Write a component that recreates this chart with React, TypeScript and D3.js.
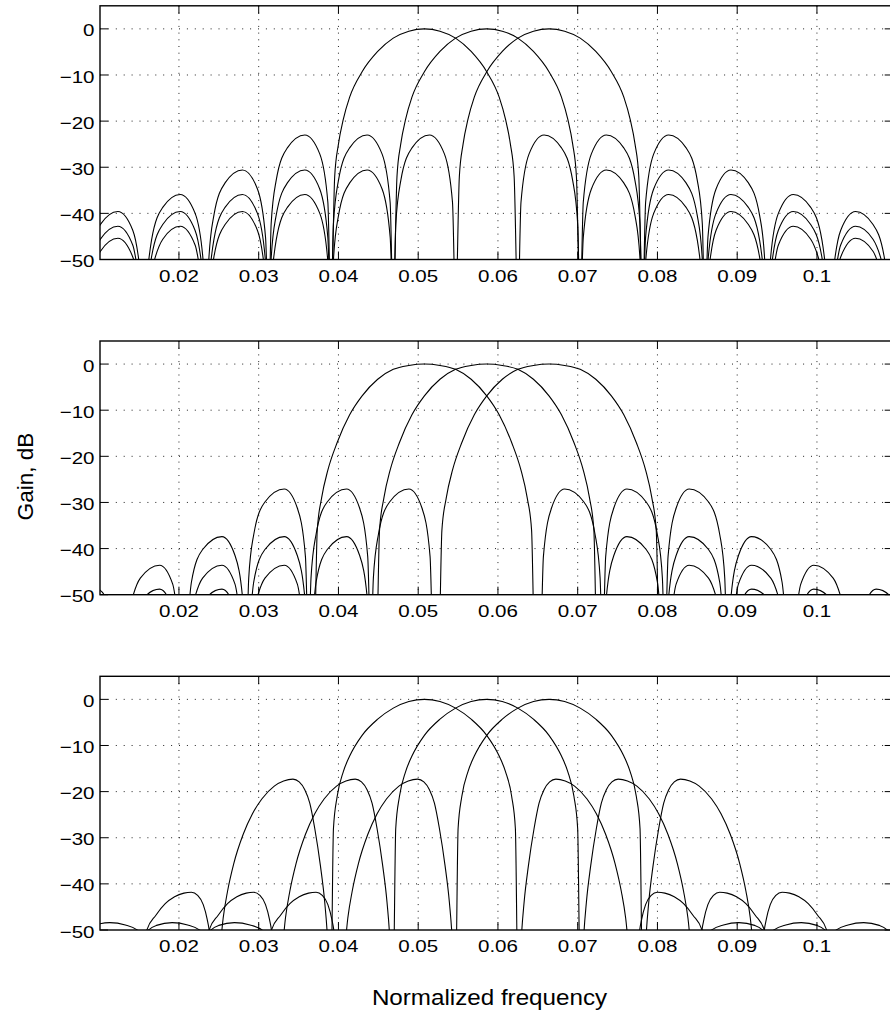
import React from 'react';
import * as d3 from 'd3';

// ---------- data ----------
const BIN = 1 / 128; // channel spacing (normalized frequency)
const CENTERS = [0.05078, 0.05859, 0.06641]; // centre frequency of each channel

const X_TICKS = [0.02, 0.03, 0.04, 0.05, 0.06, 0.07, 0.08, 0.09, 0.1];
const X_TICK_LABELS = ['0.02', '0.03', '0.04', '0.05', '0.06', '0.07', '0.08', '0.09', '0.1'];
const Y_TICKS = [0, -10, -20, -30, -40, -50];
const Y_TICK_LABELS = ['0', '\u221210', '\u221220', '\u221230', '\u221240', '\u221250'];
const X_DOMAIN = [0.0101, 0.1095];
const Y_DOMAIN = [-50, 5];

const X_LABEL = 'Normalized frequency';
const Y_LABEL = 'Gain, dB';

// [offset from channel centre in bins, gain dB]
const TOP_RESPONSE: [number, number][] = [
  [-8.5, -62], [-8.38, -57.5], [-8.2, -50.4], [-7.92, -47.6], [-7.68, -51.7],
  [-7.5, -62], [-7.38, -55.3], [-7.2, -48.2], [-6.92, -45.4], [-6.68, -49.5],
  [-6.5, -62], [-6.38, -52.7], [-6.2, -45.6], [-5.92, -42.8], [-5.68, -46.9], [-5.55, -57.4],
  [-5.5, -62], [-5.38, -49.5], [-5.2, -42.4], [-4.92, -39.6], [-4.68, -43.7], [-4.55, -54.2],
  [-4.5, -62], [-4.46, -55], [-4.38, -45.8], [-4.2, -38.7], [-3.92, -35.9], [-3.68, -40], [-3.55, -50.5],
  [-3.5, -62], [-3.46, -49.9], [-3.38, -40.5], [-3.2, -33.4], [-2.92, -30.6], [-2.68, -34.7], [-2.55, -45.2],
  [-2.5, -62], [-2.46, -42.3], [-2.38, -32.9], [-2.2, -25.8], [-1.92, -23], [-1.68, -27.1], [-1.55, -37.6],
  [-1.5, -62], [-1.44, -32], [-1.38, -25], [-1.3, -19.5], [-1.2, -14.8], [-1.0, -9.3], [-0.75, -4.9], [-0.5, -2.0], [-0.25, -0.5],
  [0, 0],
  [0.25, -0.5], [0.5, -2.0], [0.75, -4.9], [1.0, -9.3], [1.2, -14.8], [1.3, -19.5], [1.38, -25], [1.44, -32], [1.5, -62],
  [1.55, -37.6], [1.68, -27.1], [1.92, -23], [2.2, -25.8], [2.38, -32.9], [2.46, -42.3], [2.5, -62],
  [2.55, -45.2], [2.68, -34.7], [2.92, -30.6], [3.2, -33.4], [3.38, -40.5], [3.46, -49.9], [3.5, -62],
  [3.55, -50.5], [3.68, -40], [3.92, -35.9], [4.2, -38.7], [4.38, -45.8], [4.46, -55], [4.5, -62],
  [4.55, -54.2], [4.68, -43.7], [4.92, -39.6], [5.2, -42.4], [5.38, -49.5], [5.5, -62],
  [5.55, -57.4], [5.68, -46.9], [5.92, -42.8], [6.2, -45.6], [6.38, -52.7], [6.5, -62],
  [6.68, -49.5], [6.92, -45.4], [7.2, -48.2], [7.38, -55.3], [7.5, -62],
  [7.68, -51.7], [7.92, -47.6], [8.2, -50.4], [8.38, -57.5], [8.5, -62],
];

const MID_RESPONSE: [number, number][] = [
  [-6.86, -62], [-6.25, -53],
  [-5.86, -62], [-5.56, -51.6], [-5.25, -48.8], [-5.04, -52.9],
  [-4.86, -62], [-4.74, -53.5], [-4.56, -46.4], [-4.25, -43.6], [-4.04, -47.7],
  [-3.86, -62], [-3.74, -47.3], [-3.56, -40.2], [-3.25, -37.4], [-3.04, -41.5], [-2.91, -52],
  [-2.86, -62], [-2.82, -46.4], [-2.74, -37], [-2.56, -29.9], [-2.25, -27.1], [-2.04, -31.2], [-1.91, -41.7],
  [-1.86, -62], [-1.815, -55],
  [-1.77, -62], [-1.72, -36], [-1.65, -29], [-1.55, -23], [-1.4, -17], [-1.2, -11], [-1.0, -6.9], [-0.75, -3.3], [-0.5, -1.15], [-0.25, -0.3],
  [0, 0],
  [0.25, -0.3], [0.5, -1.15], [0.75, -3.3], [1.0, -6.9], [1.2, -11], [1.4, -17], [1.55, -23], [1.65, -29], [1.72, -36], [1.77, -62],
  [1.815, -55], [1.86, -62],
  [1.91, -41.7], [2.04, -31.2], [2.25, -27.1], [2.56, -29.9], [2.74, -37], [2.82, -46.4], [2.86, -62],
  [2.91, -52], [3.04, -41.5], [3.25, -37.4], [3.56, -40.2], [3.74, -47.3], [3.86, -62],
  [4.04, -47.7], [4.25, -43.6], [4.56, -46.4], [4.74, -53.5], [4.86, -62],
  [5.04, -52.9], [5.25, -48.8], [5.56, -51.6], [5.86, -62],
  [6.25, -53], [6.86, -62],
];

const BOT_RESPONSE: [number, number][] = [
  [-5.8, -60], [-5.6, -54], [-5.45, -50.3], [-5.3, -49], [-5.05, -48.4], [-4.8, -48.9], [-4.58, -50.3],
  [-4.5, -53], [-4.46, -50.2], [-4.31, -46.8], [-4.16, -44.3], [-4.01, -42.8], [-3.86, -42.0], [-3.74, -41.8], [-3.64, -42.5], [-3.55, -44.5], [-3.49, -47.5], [-3.44, -52],
  [-3.41, -62], [-3.36, -62], [-3.28, -54], [-3.23, -47.4], [-3.16, -41.6], [-3.06, -35.6], [-2.91, -29.3], [-2.76, -24.8], [-2.61, -21.6], [-2.41, -18.8], [-2.26, -17.7],
  [-2.11, -17.3], [-2.01, -17.9], [-1.92, -19.6], [-1.84, -22.5], [-1.76, -28], [-1.67, -36], [-1.6, -44], [-1.555, -52], [-1.53, -60],
  [-1.5, -62], [-1.46, -28], [-1.4, -21], [-1.3, -15.6], [-1.2, -12.3], [-1.0, -7.8], [-0.75, -4.3], [-0.5, -1.9], [-0.25, -0.45],
  [0, 0],
  [0.25, -0.45], [0.5, -1.9], [0.75, -4.3], [1.0, -7.8], [1.2, -12.3], [1.3, -15.6], [1.4, -21], [1.46, -28], [1.5, -62],
  [1.53, -60], [1.555, -52], [1.6, -44], [1.67, -36], [1.76, -28], [1.84, -22.5], [1.92, -19.6], [2.01, -17.9], [2.11, -17.3],
  [2.26, -17.7], [2.41, -18.8], [2.61, -21.6], [2.76, -24.8], [2.91, -29.3], [3.06, -35.6], [3.16, -41.6], [3.23, -47.4], [3.28, -54], [3.36, -62],
  [3.41, -62], [3.44, -52], [3.49, -47.5], [3.55, -44.5], [3.64, -42.5], [3.74, -41.8], [3.86, -42.0], [4.01, -42.8], [4.16, -44.3], [4.31, -46.8], [4.46, -50.2], [4.5, -53],
  [4.58, -50.3], [4.8, -48.9], [5.05, -48.4], [5.3, -49], [5.45, -50.3], [5.6, -54], [5.8, -60],
];

const PANELS = [
  { key: 'top', response: TOP_RESPONSE },
  { key: 'mid', response: MID_RESPONSE },
  { key: 'bot', response: BOT_RESPONSE },
];

// ---------- layout ----------
const W = 890;
const H = 1014;
const LEFT = 100;
const RIGHT = 892.7;
const PANEL_TOPS = [5.8, 341, 676.3];
const PANEL_H = 253.7;
const TICK_LEN = 8;
const FONT = "'Liberation Sans', Arial, Helvetica, sans-serif";

function Panel({ top, response, idx }: { top: number; response: [number, number][]; idx: number }) {
  const x = d3.scaleLinear().domain(X_DOMAIN).range([LEFT, RIGHT]);
  const y = d3.scaleLinear().domain(Y_DOMAIN).range([top + PANEL_H, top]);
  const bottom = top + PANEL_H;
  const line = d3
    .line<[number, number]>()
    .x((d) => x(d[0]))
    .y((d) => y(d[1]))
    .curve(d3.curveMonotoneX);
  const clipId = `clip-${idx}`;
  return (
    <g>
      <defs>
        <clipPath id={clipId}>
          <rect x={LEFT} y={top} width={RIGHT - LEFT} height={PANEL_H} />
        </clipPath>
      </defs>
      {/* grid */}
      <g stroke="#222" strokeWidth={1} fill="none">
        {X_TICKS.map((t) => (
          <line key={'gx' + t} x1={x(t)} x2={x(t)} y1={top} y2={bottom} strokeDasharray="1 5.7" />
        ))}
        {Y_TICKS.filter((t) => t > -50).map((t) => (
          <line key={'gy' + t} x1={LEFT} x2={RIGHT} y1={y(t)} y2={y(t)} strokeDasharray="1 6.9" />
        ))}
      </g>
      {/* curves */}
      <g clipPath={`url(#${clipId})`} fill="none" stroke="#000" strokeWidth={1.1}>
        {CENTERS.map((c, i) => (
          <path
            key={i}
            d={line(response.map(([b, db]) => [c + b * BIN, db] as [number, number])) || ''}
          />
        ))}
      </g>
      {/* ticks */}
      <g stroke="#000" strokeWidth={1}>
        {X_TICKS.map((t) => (
          <g key={'tx' + t}>
            <line x1={x(t)} x2={x(t)} y1={bottom} y2={bottom - TICK_LEN} />
            <line x1={x(t)} x2={x(t)} y1={top} y2={top + TICK_LEN} />
          </g>
        ))}
        {Y_TICKS.map((t) => (
          <g key={'ty' + t}>
            <line x1={LEFT} x2={LEFT + TICK_LEN} y1={y(t)} y2={y(t)} />
            <line x1={RIGHT} x2={RIGHT - TICK_LEN} y1={y(t)} y2={y(t)} />
          </g>
        ))}
      </g>
      {/* box */}
      <rect x={LEFT} y={top} width={RIGHT - LEFT} height={PANEL_H} fill="none" stroke="#000" strokeWidth={1.4} />
      {/* tick labels */}
      <g fontFamily={FONT} fontSize={17.4} fill="#000">
        {X_TICKS.map((t, i) => (
          <text key={'lx' + t} transform={`translate(${x(t)},${bottom + 22.4}) scale(1.18,1)`} textAnchor="middle">
            {X_TICK_LABELS[i]}
          </text>
        ))}
        {Y_TICKS.map((t, i) => (
          <text key={'ly' + t} transform={`translate(94.5,${y(t) + 7.6}) scale(1.18,1)`} textAnchor="end">
            {Y_TICK_LABELS[i]}
          </text>
        ))}
      </g>
    </g>
  );
}

export default function App() {
  return (
    <svg
      width={W}
      height={H}
      viewBox={`0 0 ${W} ${H}`}
      style={{ position: 'absolute', left: 0, top: 0, background: '#fff' }}
    >
      <rect x={0} y={0} width={W} height={H} fill="#fff" />
      {PANELS.map((p, i) => (
        <Panel key={p.key} top={PANEL_TOPS[i]} response={p.response} idx={i} />
      ))}
      <text
        transform={`translate(489.5,1005) scale(1.11,1)`}
        textAnchor="middle"
        fontFamily={FONT}
        fontSize={21.8}
        fill="#000"
      >
        {X_LABEL}
      </text>
      <text
        transform={`translate(32.5,476.5) rotate(-90) scale(1.05,1)`}
        textAnchor="middle"
        fontFamily={FONT}
        fontSize={21.5}
        fill="#000"
      >
        {Y_LABEL}
      </text>
    </svg>
  );
}
